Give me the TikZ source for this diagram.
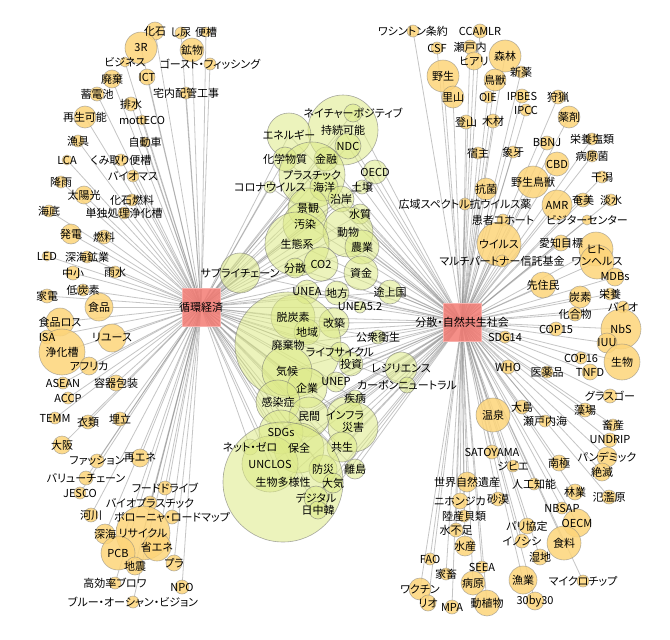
\documentclass[tikz,border=0pt]{standalone}
\usepackage{fontspec}
\setmainfont[RawFeature=+palt]{Noto Sans CJK JP}
\usetikzlibrary{backgrounds}

\definecolor{kworange}{HTML}{FDD57A}
\definecolor{kwlight}{HTML}{FEE6A8}
\definecolor{kwgreen}{HTML}{DDEA86}
\definecolor{kwpale}{HTML}{EAF2B4}
\definecolor{hubred}{HTML}{F47C74}

\pgfdeclareradialshading{orangeshade}{\pgfpoint{0bp}{0bp}}{color(0bp)=(kworange); color(37bp)=(kworange); color(41bp)=(kwlight); color(50bp)=(kwlight)}
\pgfdeclareradialshading{greenshade}{\pgfpoint{0bp}{0bp}}{color(0bp)=(kwgreen); color(37bp)=(kwgreen); color(41bp)=(kwpale); color(50bp)=(kwpale)}

\tikzset{
  hub/.style={rectangle, fill=hubred, fill opacity=0.85, draw=hubred!60!white, minimum size=38pt, inner sep=0pt},
  kw/.style={circle, inner sep=0pt, outer sep=0pt, line width=0.6pt},
  sidekw/.style={kw, shade, shading=orangeshade, fill opacity=0.85, draw=black!50, draw opacity=0.55},
  midkw/.style={kw, shade, shading=greenshade, fill opacity=0.55, draw=black!55, draw opacity=0.6},
  kwtext/.style={inner sep=0pt, font=\fontsize{11}{12}\selectfont},
  link/.style={draw=black!45, draw opacity=0.5, line width=0.8pt}
}

% keywords: x/y/radius/label
\def\leftkws{155/31/9/化石, 141/48/16/3R, 181/33/6/し尿, 206/32/5/便槽, 192/50/12/鉱物,
  210/64/6/ゴースト・フィッシング, 125/62/5/ビジネス, 147/77/8/ICT, 112/79/9/廃棄,
  97/94/7/蓄電池, 186/93/6/宅内配管工事, 131/104/7/排水, 142/120/5/mottECO,
  85/117/11/再生可能, 78/141/6/漁具, 145/142/5/自動車, 67/160/5/LCA,
  121/160/6/くみ取り便槽, 133/176/6/バイオマス, 61/182/6/降雨, 84/195/9/太陽光,
  132/200/6/化石燃料, 49/211/6/海底, 124/213/6/単独処理浄化槽, 71/234/10/発電,
  104/237/7/燃料, 47/256/5/LED, 87/257/6/深海鉱業, 73/273/7/中小, 115/272/6/雨水,
  47/296/7/家電, 83/290/6/低炭素, 99/307/14/食品, 60/322/14/食品ロス, 47/337/7/ISA,
  112/338/14/リユース, 62/352/23/浄化槽, 89/366/9/アフリカ, 63/383/6/ASEAN,
  116/383/8/容器包装, 68/398/6/ACCP, 55/418/6/TEMM, 88/422/7/衣類, 120/419/7/埋立,
  62/445/9/大阪, 97/461/7/ファッション, 140/458/9/再エネ, 86/478/7/バリューチェーン,
  80/493/6/JESCO, 165/488/7/フードドライブ, 150/503/7/バイオプラスチック, 91/515/7/河川,
  172/517/7/ボローニャ・ロードマップ, 105/534/10/深海, 143/533/27/リサイクル,
  157/547/14/省エネ, 118/553/17/PCB, 135/566/9/地震, 174/563/8/プラ,
  115/583/6/高効率ブロワ, 182/587/7/NPO, 133/602/6/ブルー・オーシャン・ビジョン}

\def\midkws{343/130/35/持続可能, 353/113/9/ネイチャーポジティブ, 348/146/13/NDC,
  289/135/22/エネルギー, 285/159/12/化学物質, 326/159/12/金融, 312/175/33/プラスチック,
  375/172/12/OECD, 270/187/6/コロナウイルス, 324/187/14/海洋, 362/187/7/土壌,
  341/199/13/沿岸, 308/208/20/景観, 360/214/10/水質, 305/224/22/汚染, 348/232/25/動物,
  297/244/32/生態系, 362/247/17/農業, 295/268/10/分散, 321/264/17/CO2, 361/273/17/資金,
  240/273/20/サプライチェーン, 390/292/12/途上国, 307/292/12/UNEA, 337/293/12/地方,
  360/307/6/UNEA5.2, 293/317/22/脱炭素, 334/323/15/改築, 307/332/13/地域,
  378/337/7/公衆衛生, 288/345/53/廃棄物, 340/352/10/ライフサイクル, 351/364/12/投資,
  287/371/25/気候, 401/368/16/レジリエンス, 336/382/10/UNEP, 307/388/20/企業,
  407/385/8/カーボンニュートラル, 278/402/22/感染症, 355/398/8/疾病, 309/417/20/民間,
  345/415/18/インフラ, 353/427/25/災害, 281/432/22/SDGs, 250/447/8/ネット・ゼロ,
  299/448/25/保全, 342/447/15/共生, 270/464/28/UNCLOS, 323/469/14/防災, 355/469/10/離島,
  283/482/60/生物多様性, 333/483/10/大気, 316/498/12/デジタル, 318/510/9/日中韓}

\def\rightkws{413/31/6/ワシントン条約, 480/31/7/CCAMLR, 437/48/6/CSF, 470/47/7/瀬戸内,
  505/56/16/森林, 474/61/9/ヒアリ, 443/76/16/野生, 521/72/6/新薬, 495/80/11/鳥獣,
  453/97/11/里山, 488/97/6/OIE, 522/96/7/IPBES, 558/97/7/狩猟, 526/110/6/IPCC,
  569/117/11/薬剤, 466/122/7/登山, 493/121/7/木材, 547/143/7/BBNJ, 592/139/6/栄養塩類,
  478/153/6/宿主, 513/152/6/象牙, 592/156/6/病原菌, 557/164/12/CBD, 533/182/16/野生鳥獣,
  602/177/6/干潟, 486/189/11/抗菌, 465/204/6/広域スペクトル抗ウイルス薬, 557/205/15/AMR,
  583/200/7/奄美, 611/200/6/淡水, 503/220/6/患者コホート, 587/220/5/ビジターセンター,
  499/244/22/ウイルス, 561/243/8/愛知目標, 596/249/17/ヒト, 502/261/6/マルチパートナー信託基金,
  597/262/17/ワンヘルス, 615/277/9/MDBs, 543/285/13/先住民, 580/297/11/炭素, 610/294/6/栄養,
  623/307/6/バイオ, 575/314/7/化合物, 621/329/20/NbS, 556/329/7/COP15, 505/337/6/SDG14,
  607/343/10/IUU, 581/358/6/COP16, 622/362/18/生物, 508/367/7/WHO, 547/372/6/医薬品,
  590/372/8/TNFD, 610/396/7/グラスゴー, 493/415/17/温泉, 522/407/7/大島, 545/421/6/瀬戸内海,
  585/410/7/藻場, 613/425/6/畜産, 610/440/7/UNDRIP, 492/452/7/SATOYAMA, 607/457/10/パンデミック,
  513/466/6/ジビエ, 559/463/8/南極, 602/472/9/絶滅, 467/482/10/世界自然遺産, 534/484/6/人工知能,
  575/492/8/林業, 609/497/7/氾濫原, 460/501/8/ニホンジカ, 498/499/7/砂漠, 562/508/6/NBSAP,
  464/516/6/陸産貝類, 577/523/14/OECM, 527/526/8/パリ協定, 456/530/7/水不足, 564/543/17/食料,
  522/541/7/イノシシ, 465/546/10/水産, 540/557/8/湿地, 430/559/6/FAO, 482/567/6/SEEA,
  446/574/6/家畜, 523/580/14/漁業, 473/583/12/病原, 583/581/6/マイクロチップ, 420/589/11/ワクチン,
  535/601/9/30by30, 487/603/13/動植物, 428/603/8/リオ, 452/607/7/MPA}

\begin{document}
\begin{tikzpicture}[x=1pt, y=-1pt]
  \useasboundingbox (0,0) rectangle (670,640);

  % Nodes
  \foreach \x/\y/\r/\t [count=\i] in \leftkws
    \node[sidekw, minimum size=2*\r] (l\i) at (\x,\y) {};
  \foreach \x/\y/\r/\t [count=\i] in \rightkws
    \node[sidekw, minimum size=2*\r] (r\i) at (\x,\y) {};
  \foreach \x/\y/\r/\t [count=\i] in \midkws
    \node[midkw, minimum size=2*\r] (m\i) at (\x,\y) {};

  \node[hub] (circ) at (201,307) {};
  \node[hub] (decen) at (462,322) {};

  % Edges
  \begin{scope}[on background layer]
    \fill[white] (0,0) rectangle (670,640);
    \foreach \x/\y/\r/\t [count=\i] in \leftkws
      \draw[link] (l\i.center) -- (circ.center);
    \foreach \x/\y/\r/\t [count=\i] in \rightkws
      \draw[link] (r\i.center) -- (decen.center);
    \foreach \x/\y/\r/\t [count=\i] in \midkws {
      \draw[link] (m\i.center) -- (circ.center);
      \draw[link] (m\i.center) -- (decen.center);
    }
  \end{scope}

  % Labels
  \foreach \x/\y/\r/\t [count=\i] in \leftkws
    \node[kwtext] (lt\i) at (l\i.center) {\t};
  \foreach \x/\y/\r/\t [count=\i] in \rightkws
    \node[kwtext] (rt\i) at (r\i.center) {\t};
  \foreach \x/\y/\r/\t [count=\i] in \midkws
    \node[kwtext] (mt\i) at (m\i.center) {\t};
  \node[kwtext] (circtext) at (circ.center) {循環経済};
  \node[kwtext] (decentext) at (decen.center) {分散・自然共生社会};
\end{tikzpicture}
\end{document}
